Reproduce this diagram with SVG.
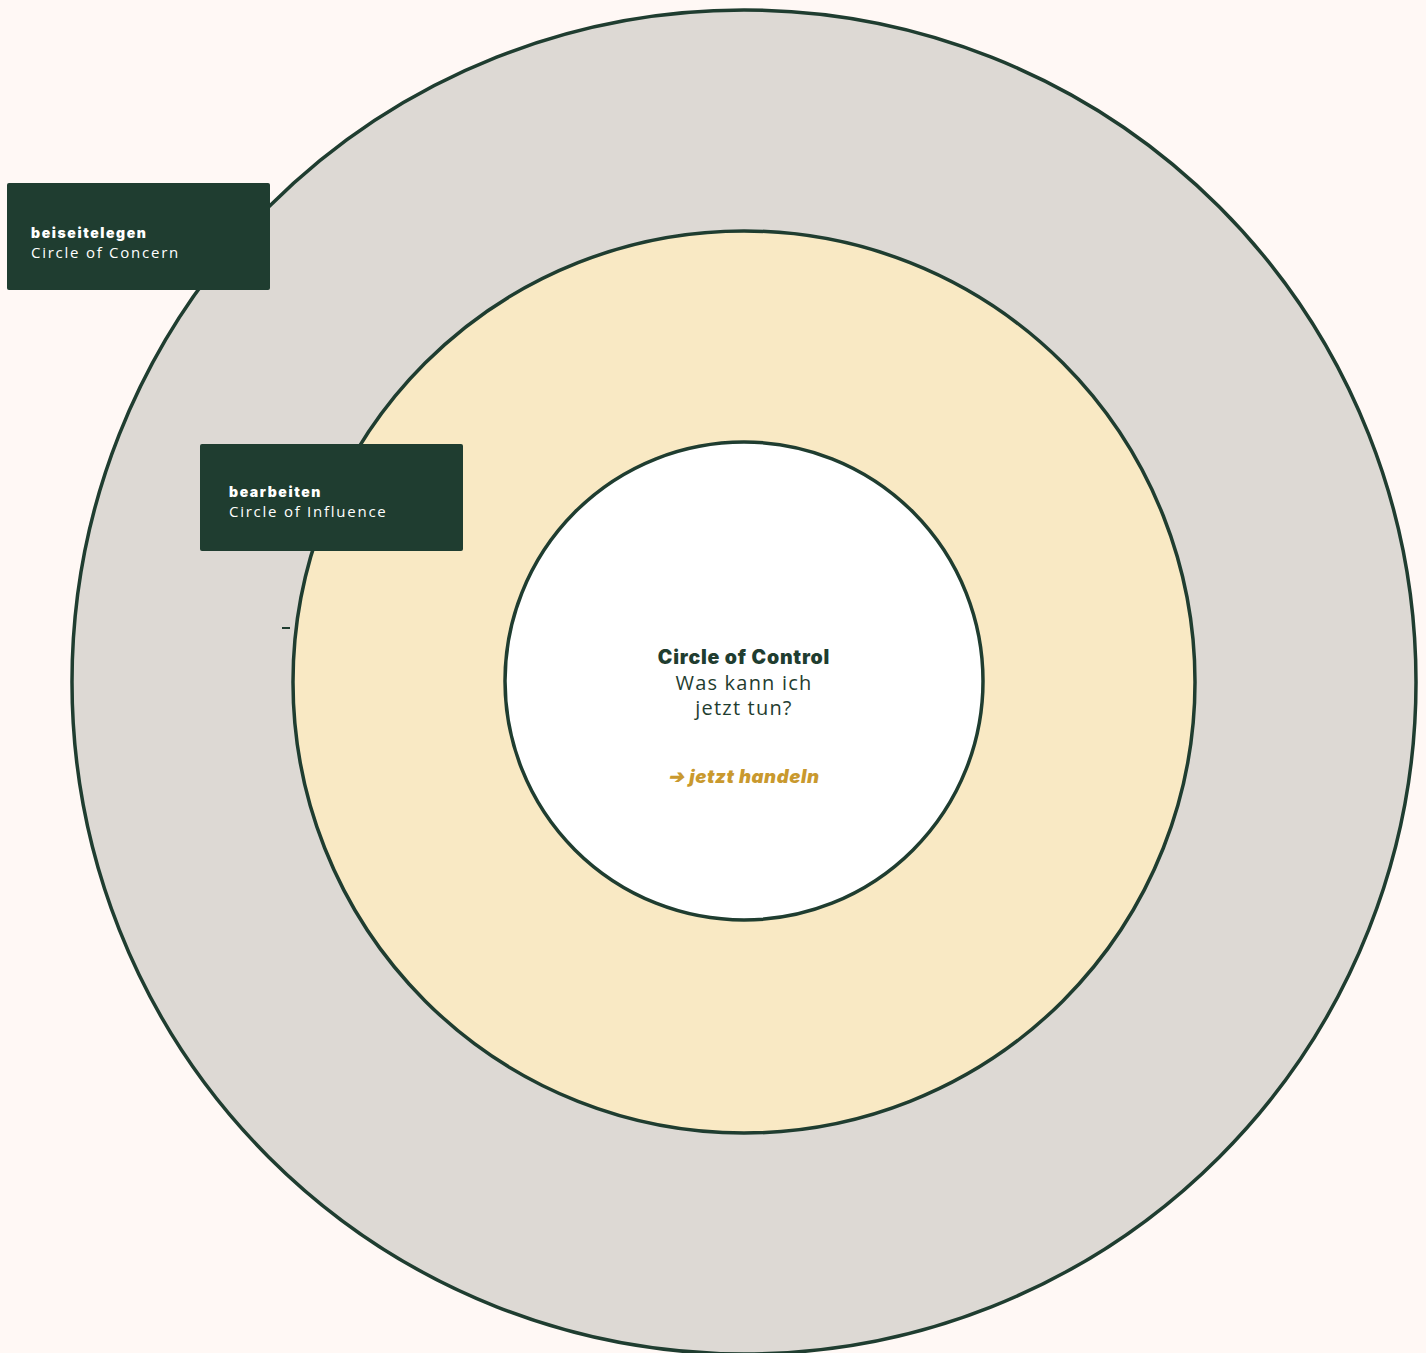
<svg xmlns="http://www.w3.org/2000/svg" width="1426" height="1353" viewBox="0 0 1426 1353">
<style>
.ring{stroke:#1F3D30;stroke-width:3.5}
.box{fill:#1F3D30}
.bt{font-family:Inter,"Noto Sans",sans-serif;font-weight:900;font-size:14px;fill:#FFFFFF;letter-spacing:1.6px}
.bs{font-family:"Open Sans","Noto Sans",sans-serif;font-size:15px;fill:#FFFFFF;letter-spacing:1.75px}
.ct{font-family:Inter,"Noto Sans",sans-serif;font-weight:900;font-size:19.5px;fill:#1F3D30;text-anchor:middle;letter-spacing:0.8px}
.cs{font-family:"Open Sans","Noto Sans",sans-serif;font-size:20px;fill:#1F3D30;text-anchor:middle;letter-spacing:1.2px}
.go{font-family:Inter,"Noto Sans",sans-serif;font-weight:900;font-style:italic;font-size:18.5px;fill:#C9992E;text-anchor:middle;letter-spacing:0.6px}
</style>
<rect width="1426" height="1353" fill="#FFF8F5"/>
<g id="concern">
<circle class="ring" cx="744" cy="682" r="672" fill="#DDD9D4"/>
</g>
<g id="influence">
<circle class="ring" cx="744" cy="682" r="451" fill="#F9E9C4"/>
</g>
<g id="control">
<circle class="ring" cx="744" cy="681" r="239" fill="#FFFFFF"/>
<text class="ct" x="744" y="664">Circle of Control</text>
<text class="cs" x="744" y="690">Was kann ich</text>
<text class="cs" x="744" y="715">jetzt tun?</text>
<text class="go" x="744" y="783">➔ jetzt handeln</text>
</g>
<g id="connectors">
<line x1="282" y1="628" x2="290" y2="628" stroke="#1F3D30" stroke-width="2"/>
</g>
<g id="label-concern">
<rect class="box" x="7" y="183" width="263" height="107" rx="2"/>
<text class="bt" x="31" y="238">beiseitelegen</text>
<text class="bs" x="31" y="258">Circle of Concern</text>
</g>
<g id="label-influence">
<rect class="box" x="200" y="444" width="263" height="107" rx="2"/>
<text class="bt" x="229" y="497">bearbeiten</text>
<text class="bs" x="229" y="517">Circle of Influence</text>
</g>
</svg>
